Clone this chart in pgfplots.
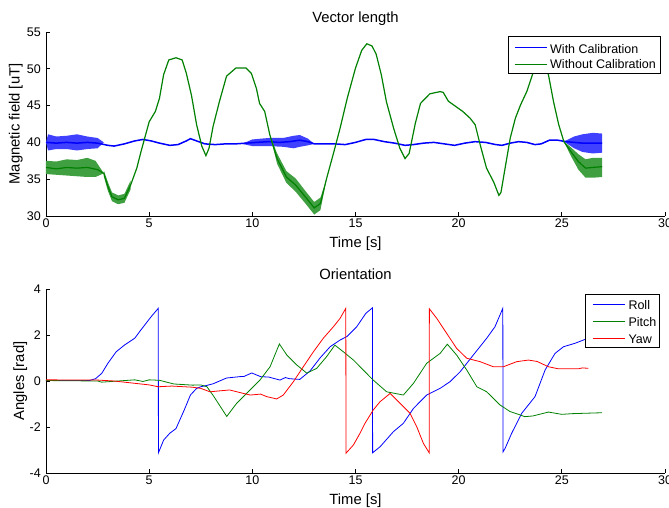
\documentclass[border=0pt]{standalone}
\usepackage{fontspec}
\setmainfont{Liberation Sans}
\usepackage{pgfplots}
\pgfplotsset{compat=1.18}
\definecolor{mblue}{rgb}{0,0,1}
\definecolor{mgreen}{rgb}{0,0.5,0}
\definecolor{mred}{rgb}{1,0,0}

\pgfplotsset{
  mat/.style={
    scale only axis, width=619pt, height=184pt,
    xmin=0, xmax=30, xtick={0,5,...,30},
    axis lines*=left,
    axis line style={black, line width=0.8pt},
    tick align=inside, major tick length=3.5pt,
    tick style={black, line width=0.7pt},
    /pgf/number format/assume math mode=true,
    tick label style={font=\fontsize{12.5}{14}\selectfont, inner sep=0pt},
    xticklabel style={anchor=base, yshift=-11.5pt},
    yticklabel style={anchor=east, xshift=-5pt},
    label style={font=\fontsize{14.8}{17}\selectfont},
    xlabel style={at={(axis description cs:0.5,0)}, anchor=base, yshift=-31.5pt, inner sep=0pt},
    title style={font=\fontsize{14.8}{17}\selectfont, at={(axis description cs:0.5,1)}, anchor=base, yshift=3.5pt, inner sep=0pt},
    legend style={line width=0.9pt, font=\fontsize{12.5}{14}\selectfont,
      inner xsep=3.3pt, inner ysep=1.5pt, row sep=0pt, column sep=3.5pt,
      nodes={inner sep=0pt, text height=14pt, text depth=2.8pt}, cells={anchor=west}},
    legend image code/.code={\path (0pt,0pt); \draw[#1, line width=0.8pt] (3.7pt,0pt) -- (35.5pt,0pt);},
  },
  band/.style={forget plot, draw=none, fill=#1},
}

% magnetic field vector length [uT]
\pgfplotstableread{
t v
0 40.0
0.5 39.9
1 40.0
1.5 39.9
2 40.0
2.5 39.9
3 39.6
3.3 39.5
3.8 39.8
4.3 40.2
4.7 40.4
5.1 40.2
5.5 39.9
6.0 39.6
6.4 39.7
6.8 40.2
7.0 40.5
7.3 40.2
7.7 39.8
8.2 39.7
8.7 39.8
9.2 39.8
9.7 39.9
10.2 40.0
10.8 40.1
11.3 40.0
11.8 40.1
12.3 40.3
12.7 40.1
13.0 39.8
13.5 39.8
14.0 39.8
14.5 39.7
15.0 40.0
15.5 40.4
15.9 40.4
16.4 40.1
16.9 39.9
17.4 39.6
17.8 39.7
18.3 39.9
18.8 40.0
19.3 39.8
19.8 39.6
20.3 39.9
20.8 40.1
21.3 40.0
21.8 39.7
22.1 39.6
22.5 39.9
22.9 40.1
23.3 40.0
23.7 39.7
24.0 39.8
24.4 40.3
24.8 40.3
25.2 40.1
25.6 40.0
26.0 39.9
26.5 39.9
26.95 39.9
}\withcal

\pgfplotstableread{
t v
0 36.6
0.5 36.4
1 36.6
1.5 36.5
2 36.6
2.5 36.3
2.8 35.8
3.0 34.0
3.2 32.6
3.5 32.2
3.8 32.4
4.1 34.2
4.4 36.5
4.6 38.7
5.0 42.8
5.3 44.2
5.5 46.0
5.7 49.2
5.95 51.2
6.3 51.5
6.6 51.2
6.8 49.4
7.05 46.4
7.3 42.4
7.55 39.5
7.75 38.2
7.9 39.2
8.1 42.2
8.4 45.5
8.75 49.0
9.2 50.1
9.7 50.1
9.95 49.4
10.2 47.3
10.35 45.3
10.6 44.2
10.85 41.0
11.2 37.8
11.65 35.3
12.1 34.2
12.6 32.5
13.0 31.1
13.3 31.7
13.6 35.1
13.95 38.7
14.25 41.9
14.6 46.0
15.0 50.1
15.3 52.5
15.55 53.4
15.8 53.1
16.0 52.0
16.25 49.2
16.5 45.5
16.85 41.9
17.15 39.2
17.4 37.8
17.6 38.5
17.9 42.6
18.15 45.3
18.6 46.6
19.1 46.9
19.25 46.8
19.5 45.6
19.9 44.8
20.2 44.2
20.55 43.3
20.8 42.4
21.05 39.6
21.35 36.5
21.7 34.6
21.95 32.8
22.05 33.2
22.25 36.5
22.5 40.6
22.75 43.3
23.0 45.1
23.3 46.9
23.6 49.4
23.9 50.3
24.15 50.3
24.35 49.2
24.6 45.5
24.85 42.4
25.1 40.1
25.45 38.7
25.8 37.4
26.15 36.5
26.5 36.6
26.95 36.7
}\withoutcal

\begin{document}
\begin{tikzpicture}
% ---------------- top: vector length ----------------
\begin{axis}[mat, at={(0pt,257pt)}, anchor=south west,
  ymin=30, ymax=55, ytick={30,35,...,55},
  title={Vector length}, xlabel={Time [s]}, ylabel={Magnetic field [uT]},
  ylabel style={at={(axis description cs:-0.0428,0.5)}, anchor=base, inner sep=0pt}]
% noise bands (with calibration)
\addplot[band=mblue!75!white] coordinates {
  (0,40.0) (0.1,41.1) (0.5,40.8) (1.0,40.9) (1.5,41.1) (2.0,40.8) (2.5,40.6) (2.8,40.0)
  (2.5,39.2) (2.0,39.1) (1.5,38.9) (1.0,39.1) (0.5,39.1) (0.1,38.9)};
\addplot[band=mblue!75!white] coordinates {
  (9.5,39.8) (10.0,40.4) (10.8,40.6) (11.5,40.6) (12.0,40.9) (12.3,41.0) (12.7,40.5) (13.0,39.8)
  (12.7,39.6) (12.3,39.4) (12.0,39.2) (11.5,39.4) (10.8,39.5) (10.0,39.5)};
\addplot[band=mblue!75!white] coordinates {
  (25.1,40.1) (25.6,40.8) (26.0,41.1) (26.5,41.3) (26.95,41.2)
  (26.95,38.6) (26.5,38.5) (26.0,38.7) (25.6,39.2)};
\addplot[forget plot, mblue, line width=1.5pt] table {\withcal};
% noise bands (without calibration)
\addplot[band=mgreen!75!white] coordinates {
  (0,37.5) (0.5,37.4) (1.0,37.7) (1.5,37.6) (2.0,37.9) (2.4,37.5) (2.8,35.8)
  (2.4,35.3) (2.0,35.3) (1.5,35.4) (1.0,35.5) (0.5,35.6) (0,35.7)};
\addplot[band=mgreen!75!white] coordinates {
  (2.8,36.2) (3.0,34.6) (3.2,33.2) (3.5,32.8) (3.8,33.0) (4.1,34.8)
  (4.1,33.6) (3.8,31.8) (3.5,31.6) (3.2,32.0) (3.0,33.4) (2.8,35.4)};
\addplot[band=mgreen!75!white] coordinates {
  (10.85,41.0) (11.2,38.5) (11.65,36.1) (12.1,35.1) (12.6,33.3) (13.0,31.9) (13.3,32.5) (13.6,35.1)
  (13.3,30.8) (13.0,30.2) (12.6,31.6) (12.1,33.3) (11.65,34.5) (11.2,37.1)};
\addplot[band=mgreen!75!white] coordinates {
  (25.1,40.1) (25.45,39.3) (25.8,38.4) (26.15,37.7) (26.5,37.9) (26.95,37.9)
  (26.95,35.3) (26.5,35.2) (26.15,35.2) (25.8,36.3) (25.45,38.1)};
\addplot[forget plot, mgreen, line width=1.2pt] table {\withoutcal};
% legend box, drawn by hand
\draw[black, line width=0.9pt, fill=white]
  (axis description cs:0.7464,0.7755) rectangle (axis description cs:0.9919,0.9745);
\draw[mblue, line width=0.8pt]
  (axis description cs:0.7577,0.9168) -- (axis description cs:0.8089,0.9168);
\draw[mgreen, line width=0.8pt]
  (axis description cs:0.7577,0.8261) -- (axis description cs:0.8089,0.8261);
\node[anchor=base west, inner sep=0pt, font=\fontsize{12.5}{14}\selectfont]
  at (axis description cs:0.8142,0.8853) {With Calibration};
\node[anchor=base west, inner sep=0pt, font=\fontsize{12.5}{14}\selectfont]
  at (axis description cs:0.8142,0.7989) {Without Calibration};
\end{axis}

% ---------------- bottom: orientation ----------------
\begin{axis}[mat, at={(0pt,0pt)}, anchor=south west,
  ymin=-4, ymax=4, ytick={-4,-2,...,4},
  title={Orientation}, xlabel={Time [s]}, ylabel={Angles [rad]},
  ylabel style={at={(axis description cs:-0.0355,0.5)}, anchor=base, inner sep=0pt},
  legend style={at={(0.992,0.973)}, anchor=north east}]
\addplot[mblue, line width=0.8pt] coordinates {
  (0,0.02) (1,0.02) (2.1,0.02) (2.4,0.1) (2.7,0.33) (3.0,0.77) (3.4,1.27) (3.8,1.56)
  (4.3,1.86) (4.6,2.22) (5.1,2.80) (5.44,3.16) (5.45,-3.12) (5.7,-2.57) (6.0,-2.27)
  (6.3,-2.07) (6.7,-1.26) (7.0,-0.61) (7.3,-0.32) (7.5,-0.25) (7.8,-0.19) (8.1,-0.12)
  (8.75,0.13) (9.4,0.19) (9.6,0.2) (9.97,0.35) (10.4,0.19) (10.8,0.17) (11.34,0.04)
  (11.6,0.15) (11.8,0.1) (12.3,0.07) (12.8,0.44) (13.28,1.0) (13.77,1.49) (14.25,1.78)
  (14.58,1.93) (15.06,2.36) (15.5,2.94) (15.82,3.18) (15.83,-3.12) (16.19,-2.86)
  (16.84,-2.2) (17.32,-1.84) (17.81,-1.19) (18.45,-0.61) (19.1,-0.32) (19.58,-0.03)
  (20.07,0.40) (20.71,1.13) (21.36,1.86) (21.76,2.36) (22.14,3.16) (22.15,-3.08)
  (22.25,-2.93) (22.57,-2.27) (23.06,-1.4) (23.7,-0.68) (24.19,0.48) (24.67,1.2)
  (25.08,1.49) (25.64,1.64) (26.13,1.81) (26.5,1.9) (26.95,2.0)};
\addlegendentry{Roll}
\addplot[mgreen, line width=0.8pt] coordinates {
  (0,0.02) (2.5,0.0) (2.7,-0.05) (3.5,0.0) (4.3,0.05) (4.7,-0.02) (5.0,0.05) (5.5,0.03)
  (6.2,-0.13) (7.1,-0.18) (7.5,-0.17) (7.8,-0.25) (8.11,-0.64) (8.76,-1.54) (9.24,-0.97)
  (9.89,-0.39) (10.37,0.04) (10.86,0.62) (11.31,1.61) (11.67,1.13) (12.15,0.7)
  (12.64,0.34) (13.12,0.55) (13.6,1.06) (14.0,1.56) (14.41,1.27) (14.9,0.91) (15.22,0.62)
  (15.46,0.40) (15.86,0.04) (16.51,-0.47) (17.32,-0.61) (17.81,-0.10) (18.45,0.77)
  (19.1,1.2) (19.45,1.6) (19.9,1.13) (20.39,0.48) (20.88,-0.25) (21.36,-0.47) (22.0,-1.04)
  (22.49,-1.33) (22.9,-1.45) (23.2,-1.55) (23.6,-1.52) (24.35,-1.35) (25.0,-1.45)
  (25.5,-1.42) (26.94,-1.38)};
\addlegendentry{Pitch}
\addplot[mred, line width=0.8pt] coordinates {
  (0,0.05) (2.5,0.04) (3.3,0.0) (4.3,-0.1) (5.0,-0.17) (5.44,-0.25) (6.1,-0.22)
  (7.1,-0.27) (7.5,-0.32) (7.95,-0.47) (8.4,-0.43) (8.9,-0.39) (9.57,-0.54) (9.9,-0.61)
  (10.4,-0.57) (10.7,-0.68) (11.18,-0.78) (11.5,-0.61) (11.99,-0.03) (12.47,0.62)
  (12.96,1.27) (13.44,1.86) (13.93,2.36) (14.25,2.72) (14.53,3.16) (14.54,-3.14)
  (14.9,-2.78) (15.22,-2.27) (15.46,-1.84) (15.86,-1.26) (16.19,-0.9) (16.68,-0.54)
  (17.16,-0.97) (17.64,-1.4) (17.97,-1.99) (18.29,-2.71) (18.57,-3.12) (18.58,3.14)
  (18.94,2.72) (19.42,2.07) (19.9,1.42) (20.39,0.99) (21.04,0.84) (21.68,0.62)
  (22.17,0.62) (22.81,0.84) (23.38,0.91) (23.8,0.85) (24.35,0.62) (24.83,0.53)
  (25.8,0.53) (26.0,0.57) (26.29,0.55)};
\addlegendentry{Yaw}
\end{axis}
\pgfresetboundingbox
\path[use as bounding box] (-46pt,-35pt) rectangle (623pt,473pt);
\end{tikzpicture}
\end{document}
